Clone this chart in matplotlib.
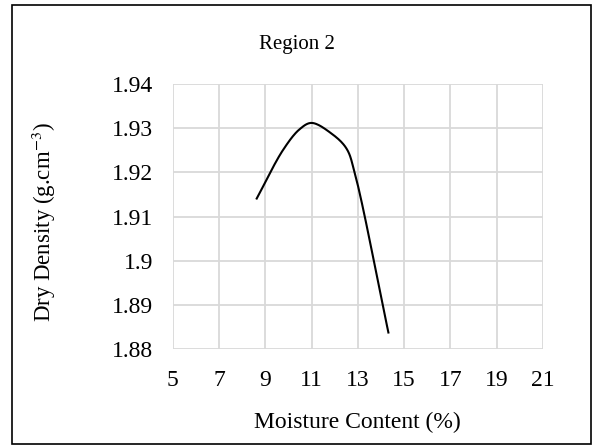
import numpy as np
import matplotlib
matplotlib.use("Agg")
import matplotlib.pyplot as plt
from matplotlib.patches import Rectangle

plt.rcParams["font.family"] = ["Liberation Serif", "DejaVu Serif"]
plt.rcParams["mathtext.fontset"] = "stix"

# data
moisture = [8.63, 9.77, 10.49, 11.0, 11.86, 12.51, 12.87, 14.32]
density = [1.9141, 1.9251, 1.9298, 1.9312, 1.9288, 1.9254, 1.9198, 1.8838]
title = "Region 2"
x_ticks = list(range(5, 22, 2))
y_ticks = [1.88, 1.89, 1.90, 1.91, 1.92, 1.93, 1.94]
y_labels = ["1.88", "1.89", "1.9", "1.91", "1.92", "1.93", "1.94"]


def smooth(x, y, n=25, sx=23.2, sy=4420.0):
    """centripetal Catmull-Rom through the points (knots from screen-ish distances)"""
    P = np.column_stack([np.asarray(x, float) * sx, np.asarray(y, float) * sy])
    P = np.vstack([2 * P[0] - P[1], P, 2 * P[-1] - P[-2]])
    out = []
    for i in range(1, len(P) - 2):
        p0, p1, p2, p3 = P[i - 1], P[i], P[i + 1], P[i + 2]
        t0 = 0.0
        t1 = t0 + np.linalg.norm(p1 - p0) ** 0.5
        t2 = t1 + np.linalg.norm(p2 - p1) ** 0.5
        t3 = t2 + np.linalg.norm(p3 - p2) ** 0.5
        t = np.linspace(t1, t2, n)[:, None]
        a1 = (t1 - t) / (t1 - t0) * p0 + (t - t0) / (t1 - t0) * p1
        a2 = (t2 - t) / (t2 - t1) * p1 + (t - t1) / (t2 - t1) * p2
        a3 = (t3 - t) / (t3 - t2) * p2 + (t - t2) / (t3 - t2) * p3
        b1 = (t2 - t) / (t2 - t0) * a1 + (t - t0) / (t2 - t0) * a2
        b2 = (t3 - t) / (t3 - t1) * a2 + (t - t1) / (t3 - t1) * a3
        out.append((t2 - t) / (t2 - t1) * b1 + (t - t1) / (t2 - t1) * b2)
    out = np.vstack(out)
    return out[:, 0] / sx, out[:, 1] / sy


fig = plt.figure(figsize=(5.93, 4.45), dpi=100)
ax = fig.add_axes([0.2912, 0.215, 0.6245, 0.5962])

cx, cy = smooth(moisture, density)
ax.plot(cx, cy, color="black", lw=1.5, zorder=3)

ax.set_xlim(5, 21); ax.set_ylim(1.88, 1.94)
ax.set_xticks(x_ticks); ax.set_yticks(y_ticks)
ax.set_yticklabels(y_labels)
ax.tick_params(length=0, labelsize=17, pad=14)
ax.tick_params(axis="x", pad=15)
ax.grid(True, color="#d9d9d9", lw=1.3)
ax.set_axisbelow(True)
for s in ax.spines.values():
    s.set_visible(False)

ax.set_xlabel("Moisture Content (%)", fontsize=17, labelpad=15)
ax.set_ylabel(r"Dry Density (g.cm$^{-3}$)", fontsize=16.5)
ax.yaxis.set_label_coords(-0.31, 0.48)
fig.text(297 / 593, 1 - 45 / 445, title, fontsize=15, ha="center", va="center")

fig.patches.append(Rectangle((12 / 593, 1 / 445), 579 / 593, 439 / 445, transform=fig.transFigure,
                             fill=False, edgecolor="black", lw=1.2))

fig.savefig("out.png", dpi=100)
